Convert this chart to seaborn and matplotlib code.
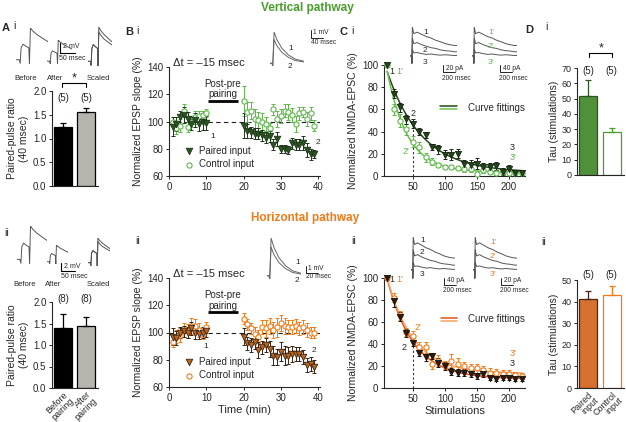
import matplotlib
matplotlib.use("Agg")
import matplotlib.pyplot as plt
import seaborn as sns
import numpy as np

# ---------------- data ----------------
ppr_labels = ["Before\npairing", "After\npairing"]
ppr_vert = [1.25, 1.56]
ppr_vert_sem = [0.07, 0.09]
ppr_vert_n = ["(5)", "(5)"]
ppr_horiz = [1.40, 1.44]
ppr_horiz_sem = [0.33, 0.21]
ppr_horiz_n = ["(8)", "(8)"]

t_before = [1, 2, 3, 4, 5, 6, 7, 8, 9, 10]
t_after = [20, 21, 22, 23, 24, 25, 26, 27, 28, 29, 30, 31, 32, 33, 34, 35, 36, 37, 38, 39]

vp_before = [96, 98, 103, 105, 102, 98, 101, 98, 100, 99]
vp_before_sem = [7, 5, 5, 6, 5, 4, 5, 5, 6, 5]
vc_before = [100, 95, 97, 108, 96, 100, 103, 104, 105, 106]
vc_before_sem = [3, 4, 5, 5, 4, 4, 5, 4, 3, 3]
vp_after = [97, 93, 92, 91, 91, 90, 88, 89, 83, 87, 80, 80, 79, 84, 83, 83, 84, 79, 76, 76]
vp_after_sem = [9, 5, 4, 4, 4, 4, 4, 4, 4, 5, 3, 3, 3, 4, 4, 4, 5, 5, 4, 3]
vc_after = [115, 107, 108, 102, 101, 100, 98, 95, 109, 102, 104, 108, 107, 105, 98, 106, 107, 102, 106, 97]
vc_after_sem = [11, 7, 6, 7, 6, 6, 5, 4, 4, 6, 5, 5, 6, 5, 6, 5, 4, 5, 5, 4]

hp_before = [97, 96, 100, 101, 100, 103, 100, 99, 100, 101]
hp_before_sem = [6, 5, 4, 4, 4, 5, 5, 4, 4, 4]
hc_before = [93, 97, 98, 102, 101, 105, 105, 102, 99, 104]
hc_before_sem = [4, 5, 5, 5, 5, 6, 5, 5, 4, 4]
hp_after = [97, 92, 91, 93, 87, 89, 91, 88, 83, 82, 86, 83, 83, 84, 84, 84, 82, 76, 77, 75]
hp_after_sem = [6, 5, 5, 5, 6, 5, 5, 6, 7, 6, 7, 7, 6, 6, 5, 5, 5, 5, 5, 5]
hc_after = [110, 106, 103, 99, 97, 104, 103, 105, 102, 104, 107, 105, 104, 104, 105, 103, 104, 102, 100, 100]
hc_after_sem = [4, 4, 4, 5, 5, 5, 6, 6, 6, 7, 6, 6, 5, 5, 5, 5, 5, 5, 4, 4]

stims = [10, 20, 30, 40, 50, 60, 70, 80, 90, 100, 110, 120, 130, 140, 150, 160, 170, 180, 190, 200, 210, 220]
vn_pair = [100, 74, 62, 51, 47, 40, 37, 26, 24, 19, 19, 20, 11, 10, 11, 8, 8, 9, 4, 6, 3, 3]
vn_pair_sem = [0, 4, 4, 4, 4, 3, 3, 3, 4, 4, 5, 4, 3, 4, 5, 4, 4, 4, 3, 4, 2, 2]
vn_ctrl = [100, 60, 50, 42, 31, 26, 17, 13, 10, 8, 8, 7, 6, 6, 2, 5, 4, 3, 4, 3, 3, 3]
vn_ctrl_sem = [0, 5, 6, 5, 5, 5, 4, 3, 2, 2, 2, 2, 2, 2, 2, 2, 2, 2, 2, 2, 1, 1]
hn_pair = [100, 79, 65, 50, 41, 32, 28, 29, 23, 20, 15, 14, 14, 13, 11, 13, 9, 8, 9, 9, 8, 8]
hn_pair_sem = [0, 5, 4, 4, 3, 3, 3, 3, 4, 4, 3, 3, 3, 3, 3, 3, 2, 2, 2, 2, 2, 2]
hn_ctrl = [100, 82, 66, 51, 47, 37, 37, 22, 25, 21, 25, 22, 20, 18, 18, 16, 14, 14, 13, 13, 12, 11]
hn_ctrl_sem = [0, 4, 4, 4, 5, 5, 5, 5, 5, 4, 6, 5, 4, 4, 4, 4, 4, 3, 3, 3, 3, 3]

tau_labels = ["Paired\ninput", "Control\ninput"]
tau_vert = [52, 28]
tau_vert_sem = [10, 3]
tau_horiz = [41, 43]
tau_horiz_sem = [4, 4]
tau_n = ["(5)", "(5)"]

# example traces (normalised shapes)
pp_t = [0.00, 0.10, 0.13, 0.16, 0.22, 0.30, 0.40, 0.42, 0.45, 0.52, 0.65, 0.82, 1.00]
pp_v = [0.12, 0.12, 0.02, 0.45, 0.55, 0.50, 0.45, 0.00, 1.00, 0.92, 0.82, 0.72, 0.62]
pp_v2 = [0.12, 0.12, 0.02, 0.45, 0.55, 0.50, 0.45, 0.00, 0.88, 0.80, 0.70, 0.62, 0.54]
ep_t = [0.00, 0.06, 0.08, 0.12, 0.20, 0.35, 0.55, 0.75, 1.00]
ep_v1 = [0.08, 0.08, 0.00, 1.00, 0.78, 0.52, 0.32, 0.20, 0.14]
ep_v2 = [0.08, 0.08, 0.00, 0.78, 0.60, 0.40, 0.25, 0.16, 0.12]
nm_t = [0.00, 0.04, 0.04, 0.05, 0.08, 0.15, 0.25, 0.35, 0.45, 0.55, 0.65, 0.75, 0.85, 0.95, 1.00]
nm_v1 = [0.22, 0.22, 0.02, 1.00, 0.82, 0.86, 0.80, 0.74, 0.70, 0.64, 0.60, 0.55, 0.52, 0.50, 0.50]
nm_v2 = [0.22, 0.22, 0.02, 0.70, 0.55, 0.58, 0.52, 0.48, 0.44, 0.42, 0.38, 0.36, 0.35, 0.33, 0.33]
nm_v3 = [0.22, 0.22, 0.02, 0.40, 0.30, 0.31, 0.28, 0.26, 0.27, 0.25, 0.24, 0.25, 0.24, 0.23, 0.23]

# ---------------- style ----------------
sns.set_style("ticks")
plt.rcParams["font.family"] = ["Liberation Sans", "DejaVu Sans"]
plt.rcParams["axes.linewidth"] = 0.8

GREEN = "#4a9e2c"
GREEN_D = "#2b5622"
GREEN_L = "#5db84a"
ORANGE = "#f07a18"
ORANGE_D = "#3a230f"
GREY = "#b8b5aa"
TR = "#555555"

W, H = 626, 422
fig = plt.figure(figsize=(W / 100, H / 100), dpi=100)


def place(l, t, r, b):
    return fig.add_axes([l / W, 1 - b / H, (r - l) / W, (b - t) / H])


def style(ax, bottom=True):
    sns.despine(ax=ax)
    ax.tick_params(direction="out", length=2.5, width=0.7, labelsize=7, pad=1.5)
    if not bottom:
        ax.tick_params(axis="x", length=0)


def bar_panel(ax, labels, means, sems, ns, fills, edges, ylim, yticks, nlab_y, fmt):
    sns.barplot(x=labels, y=means, hue=labels, palette=fills, legend=False,
                width=0.75, ax=ax)
    for p, ec in zip(ax.patches, edges):
        p.set_edgecolor(ec)
        p.set_linewidth(0.9)
    for i in range(2):
        ax.errorbar(i, means[i], yerr=[[0], [sems[i]]], fmt="none", ecolor=edges[i],
                    elinewidth=0.9, capsize=2, capthick=0.9)
        ax.text(i, nlab_y, ns[i], ha="center", va="center", fontsize=7)
    ax.set_ylim(*ylim)
    ax.set_yticks(yticks)
    ax.set_yticklabels([fmt.format(v) for v in yticks])
    ax.set_xlim(-0.48, 1.52)
    style(ax)


def ltp_panel(ax, pb, pbs, cb, cbs, pa, pas, ca, cas, pfill, pedge, ccol):
    ax.axhline(100, ls=(0, (4, 3)), color="#222222", lw=0.8, zorder=1)
    tx = t_before + t_after
    p = pb + pa
    ps = pbs + pas
    c = cb + ca
    cs = cbs + cas
    ax.errorbar(tx, c, yerr=cs, fmt="none", ecolor=ccol, elinewidth=0.7, capsize=1.5, capthick=0.7, zorder=2)
    ax.errorbar(tx, p, yerr=ps, fmt="none", ecolor=pedge, elinewidth=0.7, capsize=1.5, capthick=0.7, zorder=3)
    sns.scatterplot(x=tx, y=c, marker="o", s=14, color="white", edgecolor=ccol, linewidth=0.8,
                    ax=ax, zorder=4, label="Control input")
    sns.scatterplot(x=tx, y=p, marker="v", s=22, color=pfill, edgecolor=pedge, linewidth=0.6,
                    ax=ax, zorder=5, label="Paired input")
    h, l = ax.get_legend_handles_labels()
    ax.legend(h[::-1], l[::-1], loc="lower left", bbox_to_anchor=(0.05, 0.0), frameon=False,
              fontsize=7, handletextpad=0.4, labelspacing=0.35, borderpad=0.2, handlelength=1.2)
    ax.plot([10.5, 18.5], [115, 115], color="black", lw=2, solid_capstyle="butt")
    ax.set_xlim(0, 40.5)
    ax.set_ylim(60, 140)
    ax.set_xticks([0, 10, 20, 30, 40])
    ax.set_yticks([60, 80, 100, 120, 140])
    ax.set_ylabel("Normalized EPSP slope (%)", fontsize=7.5, labelpad=3)
    style(ax)


def exp_fit(x, y):
    x = np.asarray(x, float)
    y = np.asarray(y, float)
    best = None
    for tau in np.arange(5, 200, 0.5):
        e = np.exp(-(x - x[0]) / tau)
        A = np.vstack([e, np.ones_like(e)]).T
        coef, res, _, _ = np.linalg.lstsq(A, y, rcond=None)
        r = np.sum((A @ coef - y) ** 2)
        if best is None or r < best[0]:
            best = (r, tau, coef)
    xf = np.linspace(x[0], x[-1], 200)
    return xf, best[2][0] * np.exp(-(xf - x[0]) / best[1]) + best[2][1]


def nmda_panel(ax, pv, pvs, cv, cvs, pcol, pedge, ccol, fit_p, fit_c):
    xf, yf = exp_fit(stims, pv)
    sns.lineplot(x=xf, y=yf, color=fit_p, lw=1.1, ax=ax, zorder=2)
    xf, yf = exp_fit(stims, cv)
    sns.lineplot(x=xf, y=yf, color=fit_c, lw=1.1, ax=ax, zorder=2)
    ax.plot([50, 50], [0, pv[4]], ls=(0, (2, 2)), color="#333333", lw=0.8, zorder=1)
    ax.errorbar(stims, cv, yerr=cvs, fmt="none", ecolor=ccol, elinewidth=0.7, capsize=1.5, capthick=0.7, zorder=3)
    ax.errorbar(stims, pv, yerr=pvs, fmt="none", ecolor=pedge, elinewidth=0.7, capsize=1.5, capthick=0.7, zorder=3)
    sns.scatterplot(x=stims, y=cv, marker="o", s=14, color="white", edgecolor=ccol, linewidth=0.8,
                    ax=ax, zorder=4, clip_on=False)
    sns.scatterplot(x=stims, y=pv, marker="v", s=20, color=pcol, edgecolor=pedge, linewidth=0.6,
                    ax=ax, zorder=5, clip_on=False)
    ax.set_xlim(5, 225)
    ax.set_ylim(0, 100)
    ax.set_xticks([50, 100, 150, 200])
    ax.set_yticks([0, 20, 40, 60, 80, 100])
    ax.set_ylabel("Normalized NMDA-EPSC (%)", fontsize=7.5, labelpad=3)
    style(ax)


def trace_ax(box, xs, ys_list, color=TR):
    ax = place(*box)
    for ys in ys_list:
        ax.plot(xs, ys, color=color, lw=0.7)
    ax.set_xlim(0, 1)
    ax.set_ylim(0, 1)
    ax.axis("off")


# ---------------- A ----------------
ax = place(52, 91, 98, 186)
bar_panel(ax, ppr_labels, ppr_vert, ppr_vert_sem, ppr_vert_n, ["black", GREY], ["black", "black"],
          (0, 2.0), [0.0, 0.5, 1.0, 1.5, 2.0], 1.85, "{:.1f}")
ax.set_xticks([])
ax.set_ylabel("Paired-pulse ratio\n(40 msec)", fontsize=7.5, labelpad=3)

ax = place(52, 302, 98, 388)
bar_panel(ax, ppr_labels, ppr_horiz, ppr_horiz_sem, ppr_horiz_n, ["black", GREY], ["black", "black"],
          (0, 2.0), [0.0, 0.5, 1.0, 1.5, 2.0], 2.07, "{:.1f}")
ax.set_xticks([0, 1])
ax.set_xticklabels(ppr_labels, rotation=45, ha="right", rotation_mode="anchor", fontsize=6.5, linespacing=0.9)
ax.tick_params(axis="x", length=0)
ax.set_ylabel("Paired-pulse ratio\n(40 msec)", fontsize=7.5, labelpad=3)

trace_ax((16, 28, 48, 64), pp_t, [pp_v])
trace_ax((47, 40, 72, 64), pp_t, [pp_v])
trace_ax((88, 27, 112, 66), pp_t, [pp_v, pp_v2])
trace_ax((17, 226, 47, 264), pp_t, [pp_v])
trace_ax((47, 245, 68, 264), pp_t, [pp_v])
trace_ax((88, 238, 110, 266), pp_t, [pp_v, pp_v2])

# ---------------- B ----------------
ax = place(169, 67, 320, 176)
ltp_panel(ax, vp_before, vp_before_sem, vc_before, vc_before_sem, vp_after, vp_after_sem,
          vc_after, vc_after_sem, GREEN_D, "#1c3518", GREEN_L)

ax = place(169, 278, 320, 387)
ltp_panel(ax, hp_before, hp_before_sem, hc_before, hc_before_sem, hp_after, hp_after_sem,
          hc_after, hc_after_sem, "#b9661f", ORANGE_D, ORANGE)
ax.set_xlabel("Time (min)", fontsize=8, labelpad=2)

trace_ax((270, 32, 304, 66), ep_t, [ep_v1, ep_v2], color="#666666")
trace_ax((267, 238, 301, 279), ep_t, [ep_v1, ep_v2], color="#666666")

# ---------------- C ----------------
ax = place(384, 65, 525, 176)
nmda_panel(ax, vn_pair, vn_pair_sem, vn_ctrl, vn_ctrl_sem, "#24421f", "#16280f", GREEN_L,
           "#1f4a1a", "#6cc24a")

ax = place(384, 278, 525, 388)
nmda_panel(ax, hn_pair, hn_pair_sem, hn_ctrl, hn_ctrl_sem, "#2a1a10", "#1a1008", ORANGE,
           "#e0501e", "#f5a060")
ax.set_xlabel("Stimulations", fontsize=8, labelpad=2)

for box in [(410, 27, 457, 64), (472, 27, 517, 64), (411, 237, 455, 279), (473, 237, 517, 279)]:
    trace_ax(box, nm_t, [nm_v1, nm_v2, nm_v3])

# ---------------- D ----------------
ax = place(577, 68, 624, 175)
bar_panel(ax, tau_labels, tau_vert, tau_vert_sem, tau_n, [GREEN, "white"], [GREEN_D, GREEN],
          (0, 70), [0, 10, 20, 30, 40, 50, 60, 70], 68, "{:d}")
ax.set_xticks([])
ax.set_ylabel("Tau (stimulations)", fontsize=7.5, labelpad=2)
ax.tick_params(axis="y", labelsize=6.5)

ax = place(577, 280, 624, 388)
bar_panel(ax, tau_labels, tau_horiz, tau_horiz_sem, tau_n, ["#f26b12", "white"], ["#4a2510", ORANGE],
          (0, 50), [0, 10, 20, 30, 40, 50], 52.5, "{:d}")
ax.set_xticks([0, 1])
ax.set_xticklabels(tau_labels, rotation=45, ha="right", rotation_mode="anchor", fontsize=6.5, linespacing=0.9)
ax.tick_params(axis="x", length=0)
ax.set_ylabel("Tau (stimulations)", fontsize=7.5, labelpad=2)
ax.tick_params(axis="y", labelsize=6.5)

# ---------------- overlay: labels, scale bars, brackets ----------------
ov = fig.add_axes([0, 0, 1, 1], zorder=10)
ov.set_xlim(0, W)
ov.set_ylim(H, 0)
ov.axis("off")


def t(x, y, s, **kw):
    kw.setdefault("fontsize", 6)
    kw.setdefault("va", "center")
    ov.text(x, y, s, **kw)


def line(xs, ys, **kw):
    kw.setdefault("color", "black")
    kw.setdefault("lw", 0.8)
    ov.plot(xs, ys, **kw)


t(307, 8, "Vertical pathway", fontsize=8.5, fontweight="bold", color=GREEN, ha="center")
t(305, 218, "Horizontal pathway", fontsize=8.5, fontweight="bold", color=ORANGE, ha="center")

for x, y, s in [(2, 28, "A"), (125, 32, "B"), (339, 32, "C"), (525, 30, "D")]:
    t(x, y, s, fontsize=8, fontweight="bold")
for x, y, s in [(13, 26, "i"), (136, 31, "i"), (351, 31, "i"), (545, 27, "i"),
                (4, 233, "ii"), (135, 241, "ii"), (351, 241, "ii"), (541, 242, "ii")]:
    t(x, y, s, fontsize=7.5)

# A traces labels + scale bars
t(26, 78, "Before", ha="center", fontsize=5.5)
t(55, 78, "After", ha="center", fontsize=5.5)
t(98, 78, "Scaled", ha="center", fontsize=5.5)
t(25, 284, "Before", ha="center", fontsize=5.5)
t(53, 284, "After", ha="center", fontsize=5.5)
t(98, 284, "Scaled", ha="center", fontsize=5.5)
line([60, 60, 75], [43, 53, 53])
t(63, 47, "2 mV", fontsize=5)
t(59, 58, "50 msec", fontsize=5)
line([61, 61, 75], [263, 271, 271])
t(64, 266, "2 mV", fontsize=5)
t(61, 276, "50 msec", fontsize=5)

# significance brackets
line([62, 62, 86, 86], [87, 83, 83, 87])
t(74, 78, "*", ha="center", fontsize=9)
line([589, 589, 612, 612], [57, 53, 53, 57])
t(601, 48, "*", ha="center", fontsize=9)

# B texts
for y0, y1, y2 in [(63, 84, 94), (274, 295, 306)]:
    t(173, y0, "\u0394t = \u201315 msec", fontsize=8)
    t(223, y1, "Post-pre", ha="center", fontsize=7)
    t(223, y2, "pairing", ha="center", fontsize=7)
t(210, 136, "1", fontsize=6)
t(316, 143, "2", fontsize=6)
t(203, 347, "1", fontsize=6)
t(312, 350, "2", fontsize=6)
t(288, 49, "1", fontsize=6)
t(288, 66, "2", fontsize=6)
t(295, 262, "1", fontsize=6)
t(295, 280, "2", fontsize=6)
line([311, 311, 323], [30, 38, 38], lw=0.6)
t(313, 33, "1 mV", fontsize=4.8)
t(311, 43, "40 msec", fontsize=4.8)
line([306, 306, 318], [266, 273, 273], lw=0.6)
t(308, 269, "1 mV", fontsize=4.8)
t(306, 277, "20 msec", fontsize=4.8)

# C texts
for y, s in [(32, "1"), (51, "2"), (63, "3")]:
    t(423, y, s)
for y, s in [(32, "1'"), (46, "2'"), (62, "3'")]:
    t(488, y, s, color=GREEN_L)
for y, s in [(241, "1"), (253, "2"), (274, "3")]:
    t(420, y, s)
for y, s in [(243, "1'"), (257, "2'"), (274, "3'")]:
    t(490, y, s, color=ORANGE)
for x0, y0, s in [(443, 65, "20 pA"), (500, 65, "40 pA"), (444, 278, "40 pA"), (501, 278, "20 pA")]:
    line([x0, x0, x0 + 12], [y0, y0 + 7, y0 + 7], lw=0.6)
    t(x0 + 3, y0 + 3, s, fontsize=4.8)
    t(x0 - 1, y0 + 13, "200 msec", fontsize=4.8)

t(389, 71, "1", fontsize=6.5)
t(396, 71, "1'", fontsize=6.5, color=GREEN_L)
t(411, 113, "2", fontsize=6.5)
t(403, 151, "2'", fontsize=6.5, color=GREEN_L)
t(510, 148, "3", fontsize=6.5)
t(510, 158, "3'", fontsize=6.5, color=GREEN_L)
t(389, 279, "1", fontsize=6.5)
t(396, 279, "1'", fontsize=6.5, color=ORANGE)
t(402, 347, "2", fontsize=6.5)
t(415, 327, "2'", fontsize=6.5, color=ORANGE)
t(510, 353, "3'", fontsize=6.5, color=ORANGE)
t(510, 363, "3", fontsize=6.5)

line([440, 457], [106, 106], color="#1f4a1a", lw=1.1)
line([440, 457], [109, 109], color="#6cc24a", lw=1.1)
t(468, 108, "Curve fittings", fontsize=7)
line([441, 457], [318, 318], color="#e0501e", lw=1.1)
line([441, 457], [321, 321], color="#f5a060", lw=1.1)
t(468, 319, "Curve fittings", fontsize=7)

fig.savefig("out.png", dpi=100)
